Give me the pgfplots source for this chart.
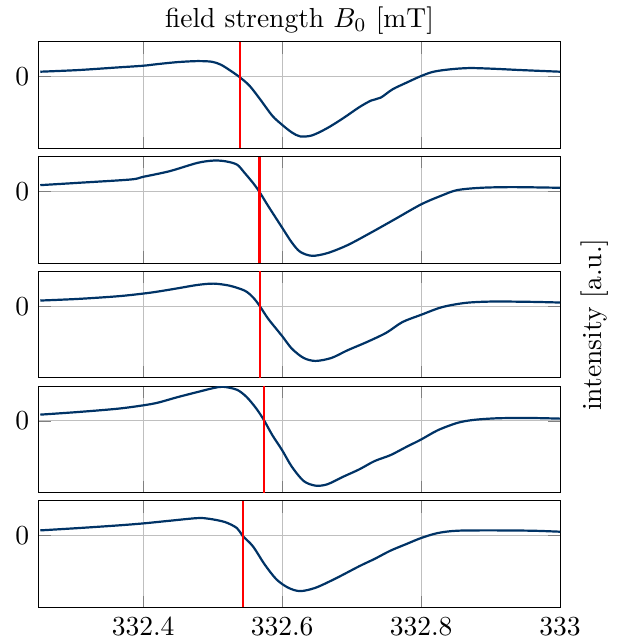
\documentclass[border=0pt]{standalone}
\usepackage{pgfplots}
\pgfplotsset{compat=1.18}
\definecolor{lineblue}{RGB}{0,51,102}
\pgfplotsset{
  panel/.style={
    width=189.4pt, height=38.7pt, scale only axis,
    xmin=332.25, xmax=333, ymin=-216, ymax=105,
    xtick={332.4,332.6,332.8,333},
    ytick={0},
    grid=major,
    xticklabels={},
    anchor=north west,
    /pgf/number format/fixed,
  },
  curve/.style={lineblue, line width=0.8pt, smooth, no marks},
  redl/.style={red, line width=0.75pt, no marks},
}
\begin{document}
\begin{tikzpicture}
\useasboundingbox (-14.13pt,15.21pt) rectangle (210.4pt,-217.0pt);
% panel 1
\begin{axis}[panel, at={(0pt,0pt)}, name=a1]
\addplot[curve] coordinates {
(332.252,15)(332.307,20)(332.364,28)(332.400,33)(332.421,38)(332.450,44)(332.478,47)(332.499,45)(332.512,36)(332.525,19)(332.538,0)(332.553,-27)(332.569,-70)(332.586,-118)(332.600,-145)(332.614,-168)(332.626,-180)(332.643,-177)(332.665,-155)(332.688,-125)(332.711,-92)(332.728,-72)(332.742,-63)(332.759,-38)(332.779,-18)(332.800,2)(332.818,15)(332.841,22)(332.869,26)(332.903,24)(332.943,20)(333.0,15)};
\addplot[redl] coordinates {(332.539,-216)(332.539,105)};
\end{axis}
% panel 2
\begin{axis}[panel, at={(0pt,-41.7pt)}, name=a2]
\addplot[curve] coordinates {
(332.252,19)(332.307,26)(332.382,36)(332.400,44)(332.438,61)(332.478,86)(332.501,93)(332.518,91)(332.535,81)(332.546,56)(332.558,26)(332.567,0)(332.580,-44)(332.600,-109)(332.614,-154)(332.626,-182)(332.643,-194)(332.665,-186)(332.694,-162)(332.728,-124)(332.762,-84)(332.800,-39)(332.830,-12)(332.852,4)(332.886,11)(332.932,13)(333.0,11)};
\addplot[redl] coordinates {(332.5675,-216)(332.5675,105)};
\end{axis}
% panel 3
\begin{axis}[panel, at={(0pt,-83.4pt)}, name=a3]
\addplot[curve] coordinates {
(332.252,17)(332.307,22)(332.364,30)(332.400,38)(332.421,44)(332.450,54)(332.478,64)(332.501,68)(332.524,62)(332.546,47)(332.558,27)(332.568,0)(332.580,-38)(332.600,-90)(332.614,-128)(332.631,-156)(332.648,-165)(332.671,-156)(332.694,-133)(332.722,-108)(332.750,-80)(332.773,-48)(332.800,-26)(332.830,-3)(332.864,10)(332.903,14)(332.960,13)(333.0,11)};
\addplot[redl] coordinates {(332.5687,-216)(332.5687,105)};
\end{axis}
% panel 4
\begin{axis}[panel, at={(0pt,-125.1pt)}, name=a4]
\addplot[curve] coordinates {
(332.252,19)(332.307,27)(332.364,37)(332.400,47)(332.421,55)(332.450,72)(332.478,87)(332.501,99)(332.515,103)(332.535,94)(332.549,72)(332.563,37)(332.574,2)(332.586,-43)(332.600,-88)(332.614,-138)(332.631,-181)(332.648,-195)(332.665,-191)(332.688,-168)(332.711,-146)(332.733,-121)(332.756,-103)(332.779,-78)(332.800,-56)(332.824,-28)(332.852,-6)(332.875,3)(332.909,8)(332.954,9)(333.0,7)};
\addplot[redl] coordinates {(332.574,-216)(332.574,105)};
\end{axis}
% panel 5
\begin{axis}[panel, at={(0pt,-166.8pt)}, name=a5, xticklabels={332.4,332.6,332.8,333}]
\addplot[curve] coordinates {
(332.252,16)(332.307,23)(332.364,31)(332.400,37)(332.438,45)(332.478,53)(332.495,51)(332.518,41)(332.535,23)(332.543,0)(332.558,-32)(332.575,-87)(332.592,-132)(332.609,-157)(332.626,-167)(332.648,-157)(332.677,-129)(332.711,-92)(332.733,-70)(332.756,-45)(332.779,-25)(332.800,-7)(332.824,8)(332.852,15)(332.903,16)(332.960,15)(333.0,12)};
\addplot[redl] coordinates {(332.544,-216)(332.544,105)};
\end{axis}
\node[anchor=base] at ([yshift=5.1pt]a1.north) {field strength $B_0$ [mT]};
\node[rotate=90, anchor=center] at ([xshift=12.7pt]a3.east) {intensity [a.u.]};
\end{tikzpicture}
\end{document}
